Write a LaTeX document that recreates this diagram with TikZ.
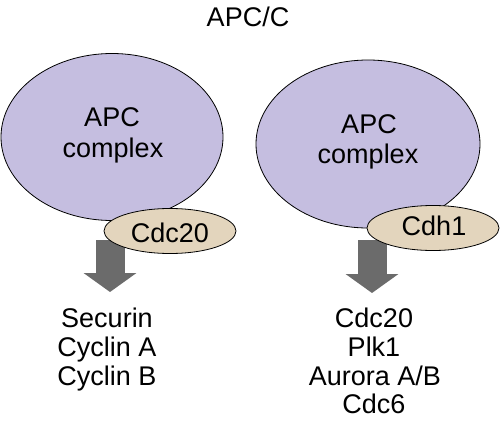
\documentclass[tikz,border=0pt]{standalone}
\usepackage{fontspec}
\setmainfont{Liberation Sans}
\usetikzlibrary{shapes.geometric,arrows.meta}
\definecolor{lav}{RGB}{197,190,224}
\definecolor{tan}{RGB}{227,213,189}
\definecolor{arrgray}{RGB}{107,107,107}
\tikzset{
  apc/.style={ellipse,draw=black,line width=0.8pt,fill=lav,inner sep=0pt},
  cof/.style={ellipse,draw=black,line width=0.8pt,fill=tan,inner sep=0pt,minimum width=132pt,minimum height=45pt},
  txt/.style={anchor=base,inner sep=0pt,font=\fontsize{27}{29}\selectfont},
  blockarrow/.style={draw=arrgray,line width=29pt,-{Triangle[width=52pt,length=19pt,fill=arrgray]}}
}
\begin{document}
\begin{tikzpicture}[x=1pt,y=-1pt]
\useasboundingbox (0,0) rectangle (500,425);
\node[txt] (title) at (248,27) {APC/C};
% arrows (behind cofactors)
\coordinate (la1) at (110,240);
\coordinate (la2) at (110,292);
\coordinate (ra1) at (372,240);
\coordinate (ra2) at (372,293);
\draw[blockarrow] (la1) -- (la2);
\draw[blockarrow] (ra1) -- (ra2);
% left complex
\node[apc,minimum width=222pt,minimum height=167pt] (lapc) at (112,137) {};
\node[txt] (lapc1) at (112,127) {APC};
\node[txt] (lapc2) at (113,157) {complex};
\node[cof] (cdc20) at (170,231) {};
\node[txt] (cdc20t) at (170,242) {Cdc20};
% right complex
\node[apc,minimum width=224pt,minimum height=168pt] (rapc) at (368,144) {};
\node[txt] (rapc1) at (369,133) {APC};
\node[txt] (rapc2) at (368,163) {complex};
\node[cof] (cdh1) at (433,228) {};
\node[txt] (cdh1t) at (434,235) {Cdh1};
% substrates
\node[txt] (s1) at (107,327) {Securin};
\node[txt] (s2) at (107,356) {Cyclin A};
\node[txt] (s3) at (107,385) {Cyclin B};
\node[txt] (t1) at (374,327) {Cdc20};
\node[txt] (t2) at (374,356) {Plk1};
\node[txt] (t3) at (375,385) {Aurora A/B};
\node[txt] (t4) at (374,413) {Cdc6};
\end{tikzpicture}
\end{document}
